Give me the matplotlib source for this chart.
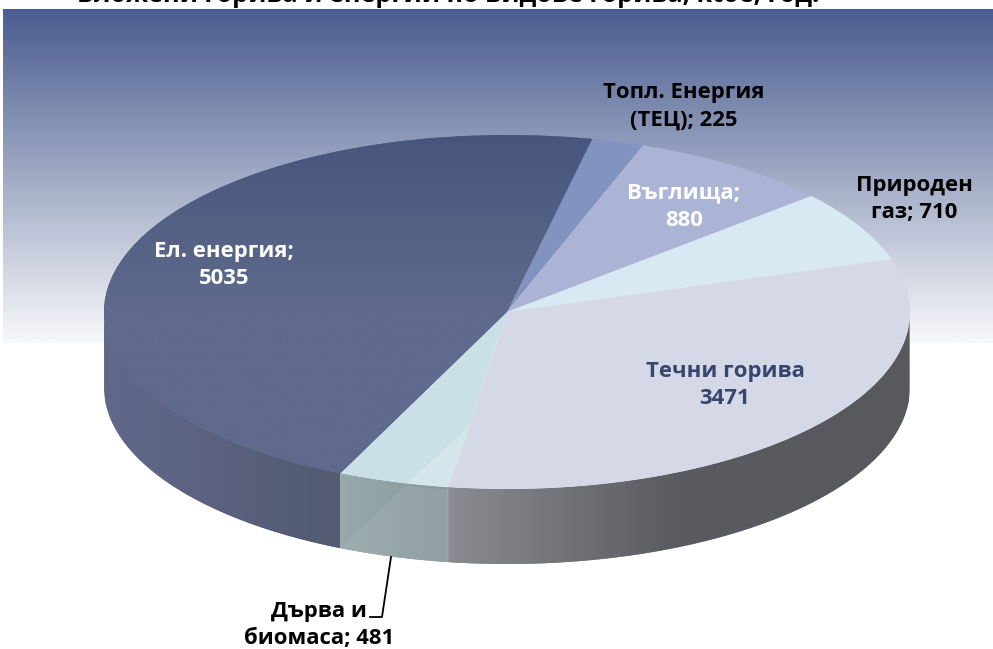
import numpy as np
import matplotlib
matplotlib.use('Agg')
import matplotlib.pyplot as plt
from matplotlib.colors import LinearSegmentedColormap
from matplotlib.patches import Polygon

plt.rcParams['font.family'] = ['Open Sans', 'DejaVu Sans']

# Data
names = ['Ел. енергия;\n', 'Топл. Енергия\n(ТЕЦ); ', 'Въглища;\n', 'Природен\nгаз; ', 'Течни горива\n', 'Дърва и\nбиомаса; ']
values = [5035, 225, 880, 710, 3471, 481]
title = 'Вложени горива и енергии по видове горива, ktoe, год.'

top_colors = ['#535f85', '#8393bf', '#abb4d4', '#d9e9f3', '#d5d8e7', '#c9e0e6']
label_colors = ['white', 'black', 'white', 'black', '#36466f', 'black']
label_pos = [(224, 265), (684, 106), (684, 207), (914, 199), (725, 385), (319, 625)]

# Pie geometry in pixels
W, H = 993, 649
cx, cy, rx, ry, depth = 507, 312, 403, 177, 75


def px(x):
    return (x - cx) / rx


def py(y):
    return (cy - y) / ry


def gradient(ax, stops, extent, clip, vertical=False):
    cmap = LinearSegmentedColormap.from_list('g', stops)
    g = np.linspace(0, 1, 256)
    g = g.reshape(-1, 1) if vertical else g.reshape(1, -1)
    im = ax.imshow(g, cmap=cmap, extent=extent, aspect='auto', origin='upper',
                   interpolation='bilinear', vmin=0, vmax=1, zorder=3)
    im.set_clip_path(clip)
    return im


fig = plt.figure(figsize=(W / 100, H / 100), dpi=100)
ax = fig.add_axes([0, 0, 1, 1])

# Pie top face: start so that the first slice ends 12 deg right of the top
start = -114.4
wedges, _ = ax.pie(values, colors=top_colors, startangle=start, counterclock=False,
                   radius=1, center=(0, 0), wedgeprops={'linewidth': 0, 'zorder': 5})
ax.set_aspect('auto')

# Background band
bg = plt.Rectangle((px(3), py(343)), px(W) - px(3), py(9) - py(343), transform=ax.transData,
                   facecolor='none', edgecolor='none')
ax.add_patch(bg)
gradient(ax, ['#4a5d90', '#f7f8fa'], (px(3), px(W), py(343), py(9)), bg, vertical=True).set_zorder(1)

# Side wall of the front slices
wall_stops = {
    0: (['#62688a', '#535a72'], 105, 340),
    4: (['#8a8c92', '#5a5b60', '#58595d'], 447, 909),
    5: (['#97a9ab', '#89999c'], 340, 447),
}
edges = start - np.cumsum([0] + values) / sum(values) * 360
for i, (stops, x0, x1) in wall_stops.items():
    a = np.radians(np.linspace(edges[i], edges[i + 1], 300))
    a = a[np.sin(a) <= 0]
    upper = np.column_stack([np.cos(a), np.sin(a)])
    lower = upper[::-1] - [0, depth / ry]
    wall = Polygon(np.vstack([upper, lower]), closed=True, facecolor=stops[0],
                   edgecolor='none', zorder=2, transform=ax.transData)
    ax.add_patch(wall)
    gradient(ax, stops, (px(x0), px(x1), py(570), py(300)), wall)
    if i == 5:
        # lighter diagonal sheen across this slice
        sheen = Polygon([(px(340), py(549)), (px(405), py(486)), (px(447), py(490)), (px(447), py(566)), (px(340), py(566))],
                        closed=True, facecolor='white', alpha=0.07, edgecolor='none', zorder=4)
        sheen.set_clip_path(wall)
        ax.add_patch(sheen)

# Gradient on the largest slice
gradient(ax, ['#46557c', '#5f6a8c', '#5f6a8c'], (px(100), px(620), py(480), py(130)), wedges[0],
         vertical=True).set_zorder(6)

# Sheen on the small wood slice
sheen2 = Polygon([(px(405), py(486)), (px(470), py(425)), (px(500), py(330)), (px(470), py(495))],
                 closed=True, facecolor='white', alpha=0.22, edgecolor='none', zorder=6)
sheen2.set_clip_path(wedges[5])
ax.add_patch(sheen2)

# Labels
for name, value, color, (x, y) in zip(names, values, label_colors, label_pos):
    ax.text(px(x), py(y), f'{name}{value}', color=color, fontsize=15.9, fontweight='bold',
            ha='center', va='center', linespacing=1.42, zorder=10)

# Leader line for the wood slice
ax.plot([px(391), px(382), px(370)], [py(557), py(617), py(617)], color='black', lw=1.3, zorder=9)

# Title is cut by the top edge in the source picture
ax.text(px(448), py(1.5), title, color='black', fontsize=18.2, fontweight='bold',
        ha='center', va='baseline', zorder=10)

ax.set_xlim(px(0), px(W))
ax.set_ylim(py(H), py(0))
ax.set_frame_on(False)
ax.set_xticks([])
ax.set_yticks([])

fig.savefig('out.png', dpi=100, facecolor='white')
